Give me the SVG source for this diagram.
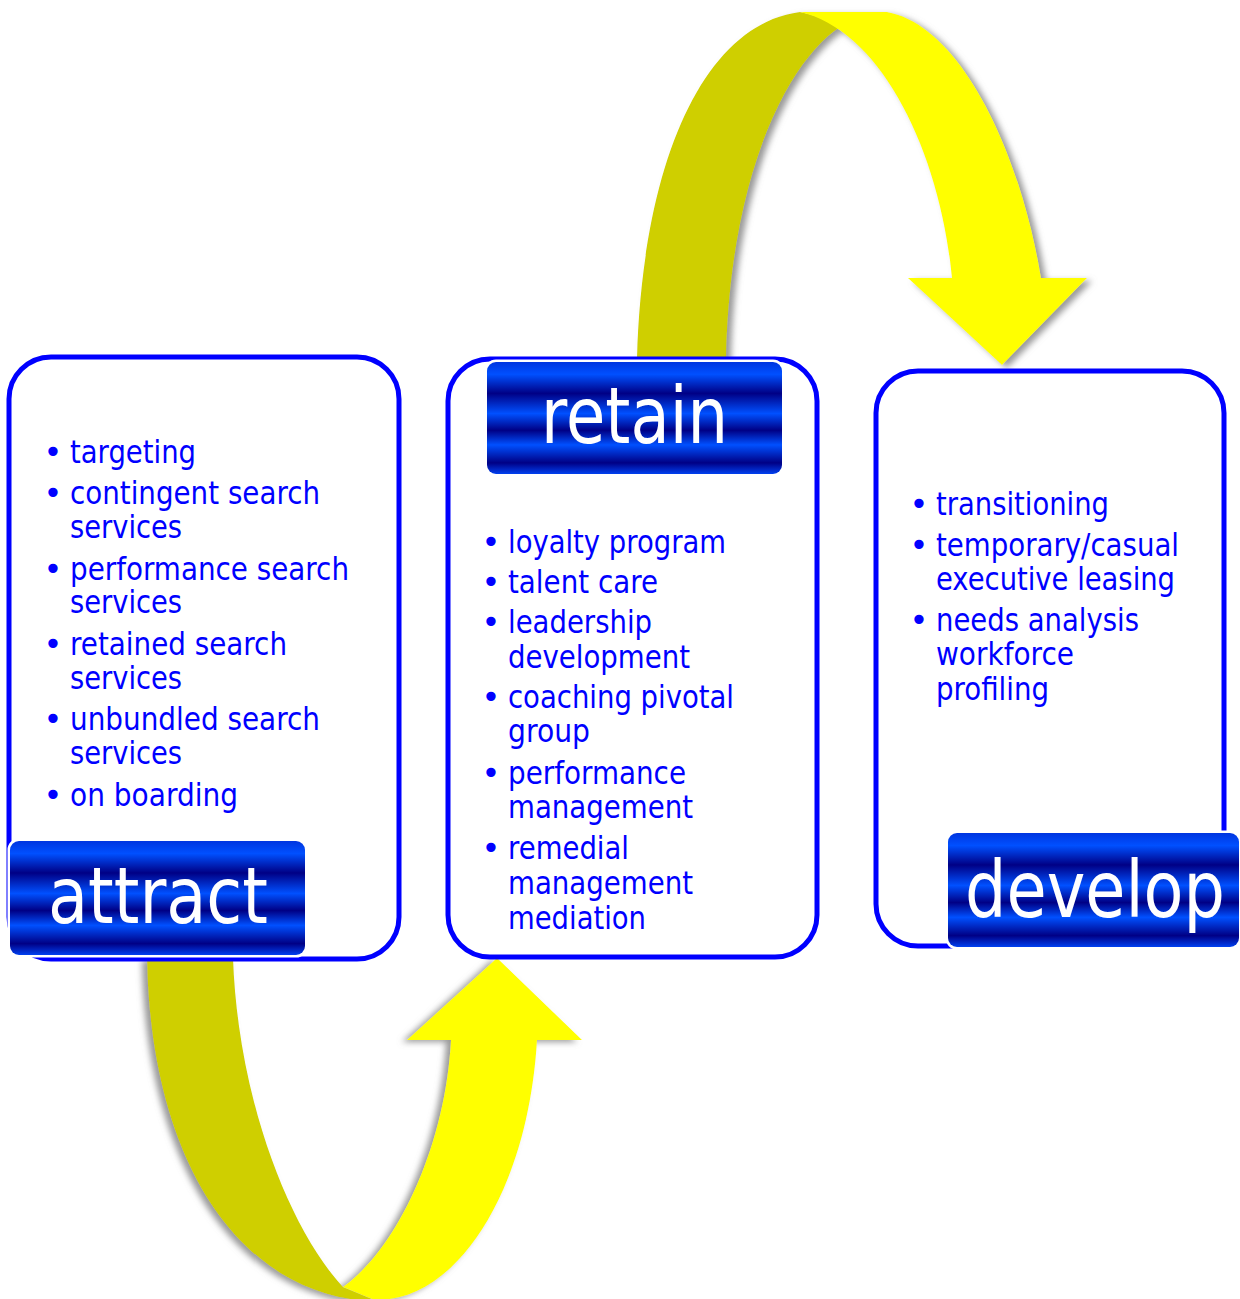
<svg xmlns="http://www.w3.org/2000/svg" width="1240" height="1299" viewBox="0 0 1240 1299">
<defs>
<linearGradient id="bar" x1="0" y1="0" x2="0" y2="1">
<stop offset="0" stop-color="#0035e0"/>
<stop offset="0.11" stop-color="#0050ff"/>
<stop offset="0.28" stop-color="#000085"/>
<stop offset="0.46" stop-color="#0050ff"/>
<stop offset="0.61" stop-color="#000085"/>
<stop offset="0.74" stop-color="#0050ff"/>
<stop offset="0.9" stop-color="#000085"/>
<stop offset="1" stop-color="#0040f0"/>
</linearGradient>
<filter id="shTop" x="-10%" y="-10%" width="130%" height="130%">
<feGaussianBlur in="SourceAlpha" stdDeviation="3"/>
<feOffset dx="5" dy="3" result="b"/>
<feFlood flood-color="#808080" flood-opacity="0.8"/>
<feComposite in2="b" operator="in"/>
<feMerge><feMergeNode/><feMergeNode in="SourceGraphic"/></feMerge>
</filter>
<filter id="shBot" x="-10%" y="-10%" width="130%" height="130%">
<feGaussianBlur in="SourceAlpha" stdDeviation="3"/>
<feOffset dx="-5" dy="2" result="b"/>
<feFlood flood-color="#808080" flood-opacity="0.8"/>
<feComposite in2="b" operator="in"/>
<feMerge><feMergeNode/><feMergeNode in="SourceGraphic"/></feMerge>
</filter>
</defs>
<style>
.box{fill:#ffffff;stroke:#0000ff;stroke-width:5}
.bar{fill:url(#bar);stroke:#ffffff;stroke-width:5;paint-order:stroke}
.lbl{font-family:"DejaVu Sans","Liberation Sans",sans-serif;font-size:78px;fill:#ffffff}
.it{font-family:"DejaVu Sans","Liberation Sans",sans-serif;font-size:32px;fill:#0000ff}
.bul{font-family:"DejaVu Sans","Liberation Sans",sans-serif;font-size:32px;fill:#0000ff;text-anchor:middle}
.olive{fill:#cfcf00}
.yel{fill:#ffff00}
</style>
<rect width="1240" height="1299" fill="#ffffff"/>
<g id="connectors">
<g id="arrow-retain-develop" filter="url(#shTop)">
<path class="olive" d="M637,359 C642,170 700,25 800,12 Q822,16 840,27 C790,60 730,170 726,359 Z"/>
<path class="yel" d="M800,12 C880,30 940,150 952,278 L908,278 L1002,365 L1087,278 L1041,278 C1020,150 960,25 887,12 Z"/>
</g>
<g id="arrow-attract-retain" filter="url(#shBot)">
<path class="olive" d="M147,958 C150,1150 230,1280 350,1299 L372,1299 L343,1287 C290,1230 238,1100 233,958 Z"/>
<path class="yel" d="M343,1287 C395,1250 445,1150 451,1040 L407,1040 L497,958 L582,1040 L537,1040 C528,1190 460,1290 390,1299 L372,1299 Z"/>
</g>
</g>
<g id="attract">
<rect class="box" x="9" y="357" width="390" height="602" rx="42"/>
<text class="bul" x="53" y="463">•</text><text class="it" x="70" y="463" textLength="126" lengthAdjust="spacingAndGlyphs">targeting</text>
<text class="bul" x="53" y="504">•</text><text class="it" x="70" y="504" textLength="250" lengthAdjust="spacingAndGlyphs">contingent search</text>
<text class="it" x="70" y="538" textLength="112" lengthAdjust="spacingAndGlyphs">services</text>
<text class="bul" x="53" y="580">•</text><text class="it" x="70" y="580" textLength="279" lengthAdjust="spacingAndGlyphs">performance search</text>
<text class="it" x="70" y="613" textLength="112" lengthAdjust="spacingAndGlyphs">services</text>
<text class="bul" x="53" y="655">•</text><text class="it" x="70" y="655" textLength="217" lengthAdjust="spacingAndGlyphs">retained search</text>
<text class="it" x="70" y="689" textLength="112" lengthAdjust="spacingAndGlyphs">services</text>
<text class="bul" x="53" y="730">•</text><text class="it" x="70" y="730" textLength="250" lengthAdjust="spacingAndGlyphs">unbundled search</text>
<text class="it" x="70" y="764" textLength="112" lengthAdjust="spacingAndGlyphs">services</text>
<text class="bul" x="53" y="806">•</text><text class="it" x="70" y="806" textLength="168" lengthAdjust="spacingAndGlyphs">on boarding</text>
<rect class="bar" x="10" y="841" width="295" height="114" rx="9"/>
<text class="lbl" x="48" y="923" textLength="220" lengthAdjust="spacingAndGlyphs">attract</text>
</g>
<g id="retain">
<rect class="box" x="448" y="359" width="369" height="598" rx="42"/>
<rect class="bar" x="487" y="362" width="295" height="112" rx="9"/>
<text class="lbl" x="541" y="443" textLength="187" lengthAdjust="spacingAndGlyphs">retain</text>
<text class="bul" x="491" y="553">•</text><text class="it" x="508" y="553" textLength="218" lengthAdjust="spacingAndGlyphs">loyalty program</text>
<text class="bul" x="491" y="593">•</text><text class="it" x="508" y="593" textLength="150" lengthAdjust="spacingAndGlyphs">talent care</text>
<text class="bul" x="491" y="633">•</text><text class="it" x="508" y="633" textLength="144" lengthAdjust="spacingAndGlyphs">leadership</text>
<text class="it" x="508" y="668" textLength="182" lengthAdjust="spacingAndGlyphs">development</text>
<text class="bul" x="491" y="708">•</text><text class="it" x="508" y="708" textLength="226" lengthAdjust="spacingAndGlyphs">coaching pivotal</text>
<text class="it" x="508" y="742" textLength="82" lengthAdjust="spacingAndGlyphs">group</text>
<text class="bul" x="491" y="784">•</text><text class="it" x="508" y="784" textLength="178" lengthAdjust="spacingAndGlyphs">performance</text>
<text class="it" x="508" y="818" textLength="185" lengthAdjust="spacingAndGlyphs">management</text>
<text class="bul" x="491" y="859">•</text><text class="it" x="508" y="859" textLength="121" lengthAdjust="spacingAndGlyphs">remedial</text>
<text class="it" x="508" y="894" textLength="185" lengthAdjust="spacingAndGlyphs">management</text>
<text class="it" x="508" y="929" textLength="138" lengthAdjust="spacingAndGlyphs">mediation</text>
</g>
<g id="develop">
<rect class="box" x="876" y="371" width="348" height="575" rx="42"/>
<text class="bul" x="919" y="515">•</text><text class="it" x="936" y="515" textLength="173" lengthAdjust="spacingAndGlyphs">transitioning</text>
<text class="bul" x="919" y="556">•</text><text class="it" x="936" y="556" textLength="243" lengthAdjust="spacingAndGlyphs">temporary/casual</text>
<text class="it" x="936" y="590" textLength="239" lengthAdjust="spacingAndGlyphs">executive leasing</text>
<text class="bul" x="919" y="631">•</text><text class="it" x="936" y="631" textLength="203" lengthAdjust="spacingAndGlyphs">needs analysis</text>
<text class="it" x="936" y="665" textLength="138" lengthAdjust="spacingAndGlyphs">workforce</text>
<text class="it" x="936" y="700" textLength="113" lengthAdjust="spacingAndGlyphs">profiling</text>
<rect class="bar" x="948" y="833" width="291" height="114" rx="9"/>
<text class="lbl" x="965" y="917" textLength="260" lengthAdjust="spacingAndGlyphs">develop</text>
</g>
</svg>
